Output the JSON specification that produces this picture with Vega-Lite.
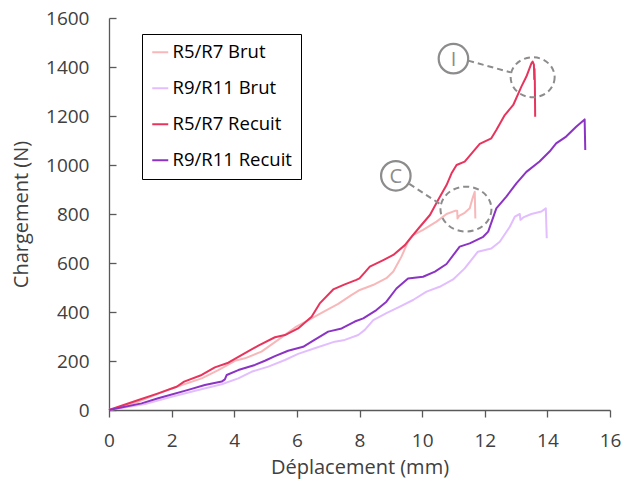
{
  "$schema": "https://vega.github.io/schema/vega-lite/v6.json",
  "autosize": {"type": "none"},
  "padding": {"left": 109, "top": 18, "right": 14, "bottom": 76},
  "width": 501,
  "height": 392,
  "background": "white",
  "config": {
    "view": {"stroke": null},
    "font": "Open Sans",
    "axis": {
      "grid": false,
      "domainColor": "#595959",
      "domainWidth": 1.3,
      "tickColor": "#595959",
      "tickWidth": 1.3,
      "labelFont": "Open Sans",
      "labelFontSize": 19,
      "labelColor": "#404040",
      "titleFont": "Open Sans",
      "titleFontSize": 20,
      "titleFontWeight": "normal",
      "titleColor": "#404040"
    },
    "legend": {
      "orient": "none",
      "legendX": 33,
      "legendY": 16,
      "direction": "vertical",
      "fillColor": "white",
      "strokeColor": "#000000",
      "padding": 9,
      "rowPadding": 17,
      "labelFont": "Open Sans",
      "labelFontSize": 18.5,
      "labelColor": "#000000",
      "labelOffset": 3,
      "symbolType": "stroke",
      "symbolSize": 256,
      "symbolStrokeWidth": 2
    }
  },
  "layer": [
    {
      "data": {
        "values": [
          {"serie": "R5/R7 Brut", "i": 0, "x": 0, "y": 0},
          {"serie": "R5/R7 Brut", "i": 1, "x": 0.94, "y": 34},
          {"serie": "R5/R7 Brut", "i": 2, "x": 2.0, "y": 88},
          {"serie": "R5/R7 Brut", "i": 3, "x": 2.96, "y": 129},
          {"serie": "R5/R7 Brut", "i": 4, "x": 3.49, "y": 163},
          {"serie": "R5/R7 Brut", "i": 5, "x": 4.02, "y": 201},
          {"serie": "R5/R7 Brut", "i": 6, "x": 4.34, "y": 211},
          {"serie": "R5/R7 Brut", "i": 7, "x": 4.87, "y": 238},
          {"serie": "R5/R7 Brut", "i": 8, "x": 5.4, "y": 286},
          {"serie": "R5/R7 Brut", "i": 9, "x": 5.94, "y": 337},
          {"serie": "R5/R7 Brut", "i": 10, "x": 6.47, "y": 374},
          {"serie": "R5/R7 Brut", "i": 11, "x": 6.89, "y": 404},
          {"serie": "R5/R7 Brut", "i": 12, "x": 7.32, "y": 433},
          {"serie": "R5/R7 Brut", "i": 13, "x": 7.74, "y": 469},
          {"serie": "R5/R7 Brut", "i": 14, "x": 8.01, "y": 490},
          {"serie": "R5/R7 Brut", "i": 15, "x": 8.43, "y": 510},
          {"serie": "R5/R7 Brut", "i": 16, "x": 8.86, "y": 538},
          {"serie": "R5/R7 Brut", "i": 17, "x": 9.08, "y": 565},
          {"serie": "R5/R7 Brut", "i": 18, "x": 9.34, "y": 626},
          {"serie": "R5/R7 Brut", "i": 19, "x": 9.55, "y": 687},
          {"serie": "R5/R7 Brut", "i": 20, "x": 9.71, "y": 714},
          {"serie": "R5/R7 Brut", "i": 21, "x": 10.03, "y": 735},
          {"serie": "R5/R7 Brut", "i": 22, "x": 10.46, "y": 769},
          {"serie": "R5/R7 Brut", "i": 23, "x": 10.78, "y": 800},
          {"serie": "R5/R7 Brut", "i": 24, "x": 11.05, "y": 813},
          {"serie": "R5/R7 Brut", "i": 25, "x": 11.12, "y": 813},
          {"serie": "R5/R7 Brut", "i": 26, "x": 11.13, "y": 782},
          {"serie": "R5/R7 Brut", "i": 27, "x": 11.18, "y": 792},
          {"serie": "R5/R7 Brut", "i": 28, "x": 11.36, "y": 805},
          {"serie": "R5/R7 Brut", "i": 29, "x": 11.52, "y": 823},
          {"serie": "R5/R7 Brut", "i": 30, "x": 11.61, "y": 864},
          {"serie": "R5/R7 Brut", "i": 31, "x": 11.68, "y": 891},
          {"serie": "R5/R7 Brut", "i": 32, "x": 11.7, "y": 782},

          {"serie": "R9/R11 Brut", "i": 0, "x": 0, "y": 0},
          {"serie": "R9/R11 Brut", "i": 1, "x": 1.15, "y": 24},
          {"serie": "R9/R11 Brut", "i": 2, "x": 2.0, "y": 54},
          {"serie": "R9/R11 Brut", "i": 3, "x": 2.85, "y": 82},
          {"serie": "R9/R11 Brut", "i": 4, "x": 3.6, "y": 105},
          {"serie": "R9/R11 Brut", "i": 5, "x": 4.13, "y": 129},
          {"serie": "R9/R11 Brut", "i": 6, "x": 4.55, "y": 156},
          {"serie": "R9/R11 Brut", "i": 7, "x": 5.09, "y": 177},
          {"serie": "R9/R11 Brut", "i": 8, "x": 5.62, "y": 204},
          {"serie": "R9/R11 Brut", "i": 9, "x": 6.04, "y": 229},
          {"serie": "R9/R11 Brut", "i": 10, "x": 6.57, "y": 252},
          {"serie": "R9/R11 Brut", "i": 11, "x": 7.21, "y": 279},
          {"serie": "R9/R11 Brut", "i": 12, "x": 7.53, "y": 286},
          {"serie": "R9/R11 Brut", "i": 13, "x": 7.96, "y": 306},
          {"serie": "R9/R11 Brut", "i": 14, "x": 8.17, "y": 327},
          {"serie": "R9/R11 Brut", "i": 15, "x": 8.44, "y": 367},
          {"serie": "R9/R11 Brut", "i": 16, "x": 8.86, "y": 395},
          {"serie": "R9/R11 Brut", "i": 17, "x": 9.29, "y": 422},
          {"serie": "R9/R11 Brut", "i": 18, "x": 9.71, "y": 449},
          {"serie": "R9/R11 Brut", "i": 19, "x": 10.14, "y": 483},
          {"serie": "R9/R11 Brut", "i": 20, "x": 10.56, "y": 503},
          {"serie": "R9/R11 Brut", "i": 21, "x": 10.99, "y": 533},
          {"serie": "R9/R11 Brut", "i": 22, "x": 11.36, "y": 578},
          {"serie": "R9/R11 Brut", "i": 23, "x": 11.78, "y": 646},
          {"serie": "R9/R11 Brut", "i": 24, "x": 12.21, "y": 659},
          {"serie": "R9/R11 Brut", "i": 25, "x": 12.48, "y": 687},
          {"serie": "R9/R11 Brut", "i": 26, "x": 12.8, "y": 748},
          {"serie": "R9/R11 Brut", "i": 27, "x": 12.96, "y": 789},
          {"serie": "R9/R11 Brut", "i": 28, "x": 13.12, "y": 800},
          {"serie": "R9/R11 Brut", "i": 29, "x": 13.14, "y": 776},
          {"serie": "R9/R11 Brut", "i": 30, "x": 13.23, "y": 786},
          {"serie": "R9/R11 Brut", "i": 31, "x": 13.49, "y": 800},
          {"serie": "R9/R11 Brut", "i": 32, "x": 13.81, "y": 810},
          {"serie": "R9/R11 Brut", "i": 33, "x": 13.95, "y": 823},
          {"serie": "R9/R11 Brut", "i": 34, "x": 13.98, "y": 701},

          {"serie": "R5/R7 Recuit", "i": 0, "x": 0, "y": 0},
          {"serie": "R5/R7 Recuit", "i": 1, "x": 0.94, "y": 41},
          {"serie": "R5/R7 Recuit", "i": 2, "x": 1.57, "y": 68},
          {"serie": "R5/R7 Recuit", "i": 3, "x": 2.16, "y": 95},
          {"serie": "R5/R7 Recuit", "i": 4, "x": 2.4, "y": 116},
          {"serie": "R5/R7 Recuit", "i": 5, "x": 2.96, "y": 143},
          {"serie": "R5/R7 Recuit", "i": 6, "x": 3.38, "y": 174},
          {"serie": "R5/R7 Recuit", "i": 7, "x": 3.81, "y": 193},
          {"serie": "R5/R7 Recuit", "i": 8, "x": 4.23, "y": 224},
          {"serie": "R5/R7 Recuit", "i": 9, "x": 4.77, "y": 263},
          {"serie": "R5/R7 Recuit", "i": 10, "x": 5.3, "y": 297},
          {"serie": "R5/R7 Recuit", "i": 11, "x": 5.62, "y": 306},
          {"serie": "R5/R7 Recuit", "i": 12, "x": 6.04, "y": 333},
          {"serie": "R5/R7 Recuit", "i": 13, "x": 6.47, "y": 381},
          {"serie": "R5/R7 Recuit", "i": 14, "x": 6.73, "y": 435},
          {"serie": "R5/R7 Recuit", "i": 15, "x": 7.16, "y": 492},
          {"serie": "R5/R7 Recuit", "i": 16, "x": 7.53, "y": 513},
          {"serie": "R5/R7 Recuit", "i": 17, "x": 7.9, "y": 531},
          {"serie": "R5/R7 Recuit", "i": 18, "x": 8.0, "y": 537},
          {"serie": "R5/R7 Recuit", "i": 19, "x": 8.17, "y": 562},
          {"serie": "R5/R7 Recuit", "i": 20, "x": 8.33, "y": 585},
          {"serie": "R5/R7 Recuit", "i": 21, "x": 8.76, "y": 612},
          {"serie": "R5/R7 Recuit", "i": 22, "x": 9.08, "y": 633},
          {"serie": "R5/R7 Recuit", "i": 23, "x": 9.45, "y": 673},
          {"serie": "R5/R7 Recuit", "i": 24, "x": 9.66, "y": 707},
          {"serie": "R5/R7 Recuit", "i": 25, "x": 9.93, "y": 748},
          {"serie": "R5/R7 Recuit", "i": 26, "x": 10.25, "y": 796},
          {"serie": "R5/R7 Recuit", "i": 27, "x": 10.51, "y": 857},
          {"serie": "R5/R7 Recuit", "i": 28, "x": 10.78, "y": 918},
          {"serie": "R5/R7 Recuit", "i": 29, "x": 10.94, "y": 966},
          {"serie": "R5/R7 Recuit", "i": 30, "x": 11.1, "y": 1000},
          {"serie": "R5/R7 Recuit", "i": 31, "x": 11.36, "y": 1014},
          {"serie": "R5/R7 Recuit", "i": 32, "x": 11.63, "y": 1055},
          {"serie": "R5/R7 Recuit", "i": 33, "x": 11.84, "y": 1086},
          {"serie": "R5/R7 Recuit", "i": 34, "x": 12.21, "y": 1109},
          {"serie": "R5/R7 Recuit", "i": 35, "x": 12.37, "y": 1143},
          {"serie": "R5/R7 Recuit", "i": 36, "x": 12.64, "y": 1204},
          {"serie": "R5/R7 Recuit", "i": 37, "x": 12.91, "y": 1245},
          {"serie": "R5/R7 Recuit", "i": 38, "x": 13.17, "y": 1320},
          {"serie": "R5/R7 Recuit", "i": 39, "x": 13.33, "y": 1361},
          {"serie": "R5/R7 Recuit", "i": 40, "x": 13.49, "y": 1415},
          {"serie": "R5/R7 Recuit", "i": 41, "x": 13.53, "y": 1422},
          {"serie": "R5/R7 Recuit", "i": 42, "x": 13.57, "y": 1410},
          {"serie": "R5/R7 Recuit", "i": 43, "x": 13.58, "y": 1350},
          {"serie": "R5/R7 Recuit", "i": 44, "x": 13.59, "y": 1392},
          {"serie": "R5/R7 Recuit", "i": 45, "x": 13.6, "y": 1340},
          {"serie": "R5/R7 Recuit", "i": 46, "x": 13.61, "y": 1197},

          {"serie": "R9/R11 Recuit", "i": 0, "x": 0, "y": 0},
          {"serie": "R9/R11 Recuit", "i": 1, "x": 1.04, "y": 27},
          {"serie": "R9/R11 Recuit", "i": 2, "x": 1.57, "y": 48},
          {"serie": "R9/R11 Recuit", "i": 3, "x": 2.53, "y": 82},
          {"serie": "R9/R11 Recuit", "i": 4, "x": 3.06, "y": 102},
          {"serie": "R9/R11 Recuit", "i": 5, "x": 3.6, "y": 116},
          {"serie": "R9/R11 Recuit", "i": 6, "x": 3.7, "y": 125},
          {"serie": "R9/R11 Recuit", "i": 7, "x": 3.76, "y": 143},
          {"serie": "R9/R11 Recuit", "i": 8, "x": 4.13, "y": 163},
          {"serie": "R9/R11 Recuit", "i": 9, "x": 4.66, "y": 184},
          {"serie": "R9/R11 Recuit", "i": 10, "x": 4.98, "y": 201},
          {"serie": "R9/R11 Recuit", "i": 11, "x": 5.3, "y": 220},
          {"serie": "R9/R11 Recuit", "i": 12, "x": 5.72, "y": 242},
          {"serie": "R9/R11 Recuit", "i": 13, "x": 6.2, "y": 258},
          {"serie": "R9/R11 Recuit", "i": 14, "x": 6.47, "y": 279},
          {"serie": "R9/R11 Recuit", "i": 15, "x": 7.0, "y": 320},
          {"serie": "R9/R11 Recuit", "i": 16, "x": 7.43, "y": 333},
          {"serie": "R9/R11 Recuit", "i": 17, "x": 7.85, "y": 361},
          {"serie": "R9/R11 Recuit", "i": 18, "x": 8.12, "y": 374},
          {"serie": "R9/R11 Recuit", "i": 19, "x": 8.54, "y": 408},
          {"serie": "R9/R11 Recuit", "i": 20, "x": 8.86, "y": 442},
          {"serie": "R9/R11 Recuit", "i": 21, "x": 9.18, "y": 496},
          {"serie": "R9/R11 Recuit", "i": 22, "x": 9.55, "y": 537},
          {"serie": "R9/R11 Recuit", "i": 23, "x": 10.03, "y": 544},
          {"serie": "R9/R11 Recuit", "i": 24, "x": 10.41, "y": 565},
          {"serie": "R9/R11 Recuit", "i": 25, "x": 10.78, "y": 596},
          {"serie": "R9/R11 Recuit", "i": 26, "x": 11.2, "y": 667},
          {"serie": "R9/R11 Recuit", "i": 27, "x": 11.52, "y": 680},
          {"serie": "R9/R11 Recuit", "i": 28, "x": 11.95, "y": 707},
          {"serie": "R9/R11 Recuit", "i": 29, "x": 12.11, "y": 728},
          {"serie": "R9/R11 Recuit", "i": 30, "x": 12.37, "y": 823},
          {"serie": "R9/R11 Recuit", "i": 31, "x": 12.69, "y": 871},
          {"serie": "R9/R11 Recuit", "i": 32, "x": 13.01, "y": 925},
          {"serie": "R9/R11 Recuit", "i": 33, "x": 13.33, "y": 972},
          {"serie": "R9/R11 Recuit", "i": 34, "x": 13.75, "y": 1014},
          {"serie": "R9/R11 Recuit", "i": 35, "x": 14.07, "y": 1055},
          {"serie": "R9/R11 Recuit", "i": 36, "x": 14.28, "y": 1088},
          {"serie": "R9/R11 Recuit", "i": 37, "x": 14.6, "y": 1116},
          {"serie": "R9/R11 Recuit", "i": 38, "x": 14.92, "y": 1156},
          {"serie": "R9/R11 Recuit", "i": 39, "x": 15.19, "y": 1186},
          {"serie": "R9/R11 Recuit", "i": 40, "x": 15.21, "y": 1061}
        ]
      },
      "mark": {"type": "line", "strokeWidth": 2, "strokeJoin": "round"},
      "encoding": {
        "x": {
          "field": "x", "type": "quantitative",
          "scale": {"domain": [0, 16], "nice": false, "zero": true},
          "axis": {
            "title": "Déplacement (mm)",
            "values": [0, 2, 4, 6, 8, 10, 12, 14, 16],
            "format": "d",
            "tickSize": 7,
            "labelPadding": 14,
            "titlePadding": 7,
            "labelFlush": false
          }
        },
        "y": {
          "field": "y", "type": "quantitative",
          "scale": {"domain": [0, 1600], "nice": false},
          "axis": {
            "title": "Chargement (N)",
            "values": [0, 200, 400, 600, 800, 1000, 1200, 1400, 1600],
            "format": "d",
            "tickSize": -7,
            "labelPadding": 27,
            "titlePadding": 14,
            "labelFlush": false
          }
        },
        "color": {
          "field": "serie", "type": "nominal",
          "scale": {
            "domain": ["R5/R7 Brut", "R9/R11 Brut", "R5/R7 Recuit", "R9/R11 Recuit"],
            "range": ["#F8B7B9", "#E2BEFF", "#E8345C", "#8B33C4"]
          },
          "legend": {"title": null}
        },
        "order": {"field": "i", "type": "quantitative"}
      }
    },
    {
      "data": {"values": [{"x": 11.47, "y": 1426, "x2": 12.83, "y2": 1378}, {"x": 9.59, "y": 923, "x2": 10.62, "y2": 837}]},
      "mark": {"type": "rule", "color": "#8C8C8C", "strokeWidth": 2, "strokeDash": [6, 4]},
      "encoding": {
        "x": {"field": "x", "type": "quantitative"},
        "y": {"field": "y", "type": "quantitative"},
        "x2": {"field": "x2"},
        "y2": {"field": "y2"}
      }
    },
    {
      "data": {"values": [{"x": 13.53, "y": 1358}]},
      "mark": {"type": "point", "filled": false, "stroke": "#8C8C8C", "strokeWidth": 2, "strokeDash": [6, 4], "opacity": 1, "size": 1936,
        "shape": "M1,0C1,0.5026,0.5523,0.91,0,0.91C-0.5523,0.91,-1,0.5026,-1,0C-1,-0.5026,-0.5523,-0.91,0,-0.91C0.5523,-0.91,1,-0.5026,1,0Z"},
      "encoding": {"x": {"field": "x", "type": "quantitative"}, "y": {"field": "y", "type": "quantitative"}}
    },
    {
      "data": {"values": [{"x": 11.40, "y": 820}]},
      "mark": {"type": "point", "filled": false, "stroke": "#8C8C8C", "strokeWidth": 2, "strokeDash": [6, 4], "opacity": 1, "size": 2601,
        "shape": "M1,0C1,0.486,0.5523,0.88,0,0.88C-0.5523,0.88,-1,0.486,-1,0C-1,-0.486,-0.5523,-0.88,0,-0.88C0.5523,-0.88,1,-0.486,1,0Z"},
      "encoding": {"x": {"field": "x", "type": "quantitative"}, "y": {"field": "y", "type": "quantitative"}}
    },
    {
      "data": {"values": [{"x": 11.0, "y": 1434, "label": "I"}, {"x": 9.16, "y": 956, "label": "C"}]},
      "layer": [
        {
          "mark": {"type": "point", "shape": "circle", "filled": true, "fill": "white", "stroke": "#8C8C8C", "strokeWidth": 2.2, "opacity": 1, "size": 870},
          "encoding": {"x": {"field": "x", "type": "quantitative"}, "y": {"field": "y", "type": "quantitative"}}
        },
        {
          "mark": {"type": "text", "font": "Open Sans", "fontSize": 20, "color": "#8C8C8C", "baseline": "middle", "align": "center", "dy": 1},
          "encoding": {"x": {"field": "x", "type": "quantitative"}, "y": {"field": "y", "type": "quantitative"}, "text": {"field": "label"}}
        }
      ]
    }
  ]
}
